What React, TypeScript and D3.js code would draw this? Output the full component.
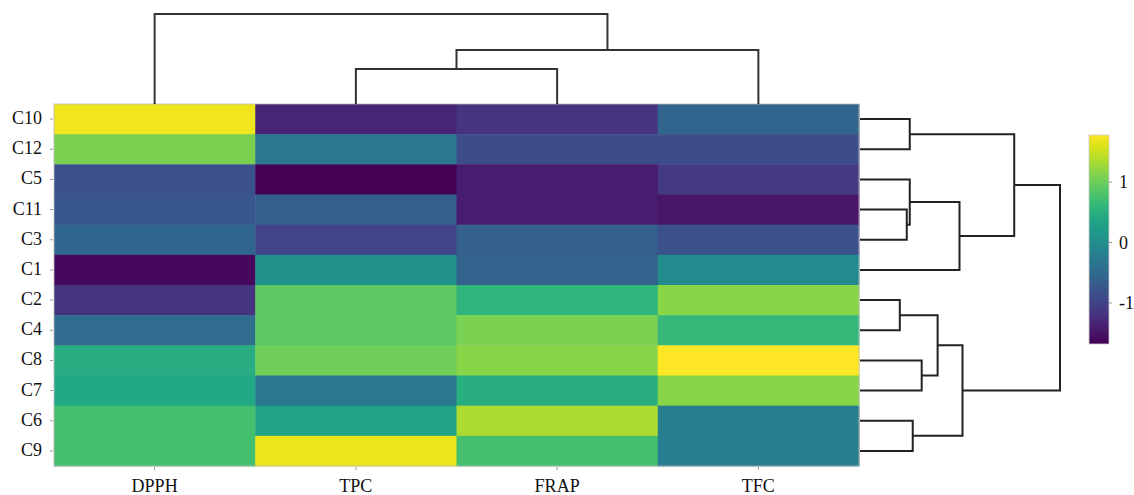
import React from "react";
import * as d3 from "d3";

const rowLabels = ["C10", "C12", "C5", "C11", "C3", "C1", "C2", "C4", "C8", "C7", "C6", "C9"];
const colLabels = ["DPPH", "TPC", "FRAP", "TFC"];

// values per column, in row order above
const dpph = [1.7, 1.09, -0.82, -0.75, -0.54, -1.6, -1.16, -0.47, 0.47, 0.4, 0.74, 0.74];
const tpc = [-1.33, -0.3, -1.68, -0.64, -0.99, 0.05, 0.92, 0.92, 1.02, -0.3, 0.33, 1.68];
const frap = [-1.16, -0.88, -1.4, -1.4, -0.64, -0.61, 0.57, 1.09, 1.16, 0.5, 1.36, 0.74];
const tfc = [-0.57, -0.88, -1.09, -1.47, -0.82, -0.02, 1.16, 0.64, 1.78, 1.16, -0.23, -0.23];

// linkage: [childA, childB, height]; leaves are 0..n-1, new clusters n, n+1, ...
const rowLinkage: [number, number, number][] = [
  [3, 4, 0.47],
  [2, 12, 0.5],
  [0, 1, 0.5],
  [13, 5, 1.0],
  [14, 15, 1.55],
  [6, 7, 0.4],
  [8, 9, 0.62],
  [17, 18, 0.78],
  [10, 11, 0.53],
  [19, 20, 1.03],
  [16, 21, 2.01],
];
const colLinkage: [number, number, number][] = [
  [1, 2, 3.5],
  [4, 3, 5.4],
  [0, 5, 9.0],
];

const colorDomain = [-1.68, 1.78];
const colorTicks = [-1, 0, 1];

function dendroPaths(
  linkage: [number, number, number][],
  n: number,
  leafPos: (i: number) => number,
  hScale: (h: number) => number,
  horizontal: boolean
) {
  const pos: number[] = [];
  const ht: number[] = [];
  for (let i = 0; i < n; i++) {
    pos[i] = leafPos(i);
    ht[i] = 0;
  }
  const paths: string[] = [];
  linkage.forEach(([a, b, h], k) => {
    const id = n + k;
    const pa = pos[a], pb = pos[b];
    const ha = hScale(ht[a]), hb = hScale(ht[b]), hh = hScale(h);
    if (horizontal) {
      paths.push(`M${ha},${pa}H${hh}V${pb}H${hb}`);
    } else {
      paths.push(`M${pa},${ha}V${hh}H${pb}V${hb}`);
    }
    pos[id] = (pa + pb) / 2;
    ht[id] = h;
  });
  return paths;
}

export default function App() {
  const W = 1134, H = 495;
  const left = 54, right = 859, top = 104, bottom = 466;
  const columns = [dpph, tpc, frap, tfc];

  const x = d3.scaleBand<string>().domain(colLabels).range([left, right]);
  const y = d3.scaleBand<string>().domain(rowLabels).range([top, bottom]);
  const color = d3.scaleSequential(d3.interpolateViridis).domain(colorDomain as [number, number]);

  const rowH = d3.scaleLinear().domain([0, 2.01]).range([right + 1, 1060]);
  const colH = d3.scaleLinear().domain([0, 9.0]).range([top, 14]);

  const rowPaths = dendroPaths(
    rowLinkage,
    rowLabels.length,
    (i) => (y(rowLabels[i]) as number) + y.bandwidth() / 2,
    rowH,
    true
  );
  const colPaths = dendroPaths(
    colLinkage,
    colLabels.length,
    (i) => (x(colLabels[i]) as number) + x.bandwidth() / 2,
    colH,
    false
  );

  const cbX = 1089, cbW = 20, cbTop = 135, cbBottom = 344;
  const cbScale = d3.scaleLinear().domain(colorDomain).range([cbBottom, cbTop]);
  const stops = d3.range(0, 1.0001, 0.05);

  const font = "'Liberation Serif', 'Times New Roman', serif";

  return (
    <svg
      width={W}
      height={H}
      style={{ position: "absolute", left: 0, top: 0, background: "#fff" }}
      fontFamily={font}
    >
      <defs>
        <linearGradient id="cbgrad" x1="0" y1="1" x2="0" y2="0">
          {stops.map((t) => (
            <stop key={t} offset={t} stopColor={d3.interpolateViridis(t)} />
          ))}
        </linearGradient>
      </defs>

      {/* heatmap cells */}
      {columns.map((vals, ci) =>
        vals.map((v, ri) => (
          <rect
            key={`${ci}-${ri}`}
            x={x(colLabels[ci])}
            y={y(rowLabels[ri])}
            width={x.bandwidth() + 0.5}
            height={y.bandwidth() + 0.5}
            fill={color(v)}
          />
        ))
      )}
      <rect x={left} y={top} width={right - left} height={bottom - top} fill="none" stroke="#bbb" strokeWidth={0.8} />

      {/* row labels */}
      {rowLabels.map((r) => {
        const cy = (y(r) as number) + y.bandwidth() / 2;
        return (
          <g key={r}>
            <line x1={left - 4} x2={left - 1} y1={cy} y2={cy} stroke="#999" strokeWidth={1} />
            <text x={42} y={cy + 5} textAnchor="end" fontSize={18} fill="#111">
              {r}
            </text>
          </g>
        );
      })}

      {/* column labels */}
      {colLabels.map((c) => {
        const cx = (x(c) as number) + x.bandwidth() / 2;
        return (
          <g key={c}>
            <line x1={cx} x2={cx} y1={bottom + 1} y2={bottom + 4} stroke="#999" strokeWidth={1} />
            <text x={cx} y={492} textAnchor="middle" fontSize={18} fill="#111">
              {c}
            </text>
          </g>
        );
      })}

      {/* dendrograms */}
      {colPaths.map((d, i) => (
        <path key={`c${i}`} d={d} fill="none" stroke="#333" strokeWidth={2} />
      ))}
      {rowPaths.map((d, i) => (
        <path key={`r${i}`} d={d} fill="none" stroke="#222" strokeWidth={2} />
      ))}

      {/* colorbar */}
      <rect x={cbX} y={cbTop} width={cbW} height={cbBottom - cbTop} fill="url(#cbgrad)" stroke="#ccc" strokeWidth={0.8} />
      {colorTicks.map((t) => (
        <g key={t}>
          <line x1={cbX + cbW} x2={cbX + cbW + 3} y1={cbScale(t)} y2={cbScale(t)} stroke="#999" />
          <text x={1119} y={cbScale(t) + 6} fontSize={18} fill="#111">
            {t}
          </text>
        </g>
      ))}
    </svg>
  );
}
